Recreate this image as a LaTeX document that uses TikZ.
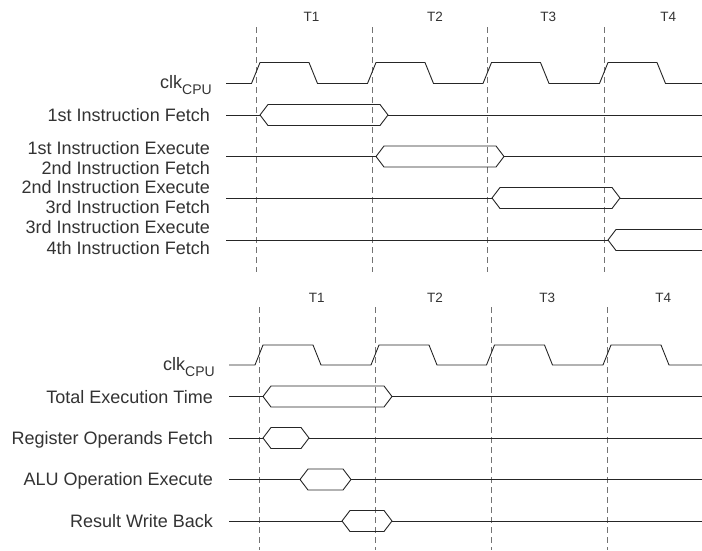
\documentclass[tikz,border=0pt]{standalone}
\usepackage{fontspec}
\setmainfont{Liberation Sans}
\newcommand\busbox[3]{% y, left point, right point
  \draw[sig] (#2,#1) -- ({#2+8},{#1-10.5}) -- ({#3-8},{#1-10.5}) -- (#3,#1) -- ({#3-8},{#1+10.5}) -- ({#2+8},{#1+10.5}) -- cycle;}
\newcommand\busopen[2]{% y, left point, open to the right edge
  \draw[sig] (702,{#1-10.5}) -- ({#2+8},{#1-10.5}) -- (#2,#1) -- ({#2+8},{#1+10.5}) -- (702,{#1+10.5});}
\begin{document}
\begin{tikzpicture}[x=1pt,y=-1pt,
  sig/.style={line width=0.9pt,draw=black!85,line join=miter},
  gridline/.style={line width=0.9pt,draw=black!55,dash pattern=on 6pt off 4pt},
  lbl/.style={inner sep=0pt,anchor=base east,font=\fontsize{18}{20}\selectfont,text=black!80},
  tlbl/.style={inner sep=0pt,anchor=base,font=\fontsize{13.5}{15}\selectfont,text=black!80}]
\useasboundingbox (0,0) rectangle (702,550);
\fill[white] (0,0) rectangle (702,550);

% ---------------- top diagram ----------------
\foreach \x in {256,372,487.5,604} \draw[gridline] (\x,27) -- (\x,272);
\node[tlbl] (tA1) at (311.5,21.7) {T1};
\node[tlbl] (tA2) at (435,21.7) {T2};
\node[tlbl] (tA3) at (548.3,21.7) {T3};
\node[tlbl] (tA4) at (668.3,21.7) {T4};

\draw[sig] (226,83.5) \foreach \c in {256,372,487.5,604}{ -- ({\c-4.5},83.5) -- ({\c+4},62.5) -- ({\c+53},62.5) -- ({\c+61.5},83.5)} -- (702,83.5);
\node[lbl] (clkA) at (212,88.5) {clk\raisebox{-6pt}{\fontsize{14}{14}\selectfont CPU}};

\node[lbl] (r1) at (210,121.5) {1st Instruction Fetch};
\draw[sig] (226,115) -- (260,115);
\busbox{115}{260}{388}
\draw[sig] (388,115) -- (702,115);

\node[lbl] (r2a) at (210,154) {1st Instruction Execute};
\node[lbl] (r2b) at (210,174) {2nd Instruction Fetch};
\draw[sig] (226,156.5) -- (376,156.5);
\busbox{156.5}{376}{504}
\draw[sig] (504,156.5) -- (702,156.5);

\node[lbl] (r3a) at (210,193.5) {2nd Instruction Execute};
\node[lbl] (r3b) at (210,213.5) {3rd Instruction Fetch};
\draw[sig] (226,198) -- (492,198);
\busbox{198}{492}{620}
\draw[sig] (620,198) -- (702,198);

\node[lbl] (r4a) at (210,233.5) {3rd Instruction Execute};
\node[lbl] (r4b) at (210,254) {4th Instruction Fetch};
\draw[sig] (226,240) -- (608,240);
\busopen{240}{608}

% ---------------- bottom diagram ----------------
\foreach \x in {259,375.5,491,607} \draw[gridline] (\x,307) -- (\x,550);
\node[tlbl] (tB1) at (316.7,302.3) {T1};
\node[tlbl] (tB2) at (435,302.3) {T2};
\node[tlbl] (tB3) at (547.3,302.3) {T3};
\node[tlbl] (tB4) at (663.3,302.3) {T4};

\draw[sig] (229,365) \foreach \c in {259,375,490.5,607}{ -- ({\c-4},365) -- ({\c+4},345) -- ({\c+54},345) -- ({\c+62},365)} -- (702,365);
\node[lbl] (clkB) at (215,370) {clk\raisebox{-6.5pt}{\fontsize{14}{14}\selectfont CPU}};

\node[lbl] (s1) at (213,403) {Total Execution Time};
\draw[sig] (229,396.5) -- (263,396.5);
\busbox{396.5}{263}{392}
\draw[sig] (392,396.5) -- (702,396.5);

\node[lbl] (s2) at (213,444) {Register Operands Fetch};
\draw[sig] (229,438) -- (263,438);
\busbox{438}{263}{309}
\draw[sig] (309,438) -- (702,438);

\node[lbl] (s3) at (213,485.5) {ALU Operation Execute};
\draw[sig] (229,479.5) -- (300,479.5);
\busbox{479.5}{300}{351}
\draw[sig] (351,479.5) -- (702,479.5);

\node[lbl] (s4) at (213,527) {Result Write Back};
\draw[sig] (229,521) -- (342,521);
\busbox{521}{342}{392}
\draw[sig] (392,521) -- (702,521);
\end{tikzpicture}
\end{document}
